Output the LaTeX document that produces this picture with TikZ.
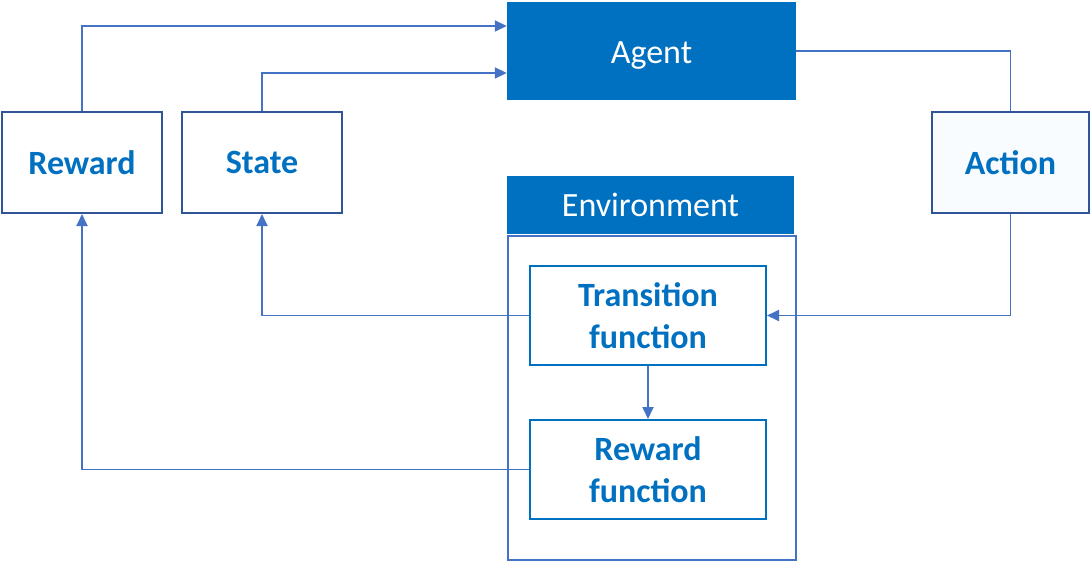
\documentclass[tikz,border=0pt]{standalone}
\usepackage{fontspec}
\setmainfont{Carlito}
\usetikzlibrary{arrows.meta}
\definecolor{hdr}{HTML}{0070C0}
\definecolor{edge}{HTML}{4472C4}
\definecolor{boxline}{HTML}{2F5597}
\definecolor{actfill}{HTML}{F8FCFF}
\tikzset{
  txt/.style={font=\fontsize{34}{42}\selectfont},
  hbox/.style={txt, fill=hdr, text=white, inner sep=0pt},
  obox/.style={draw=boxline, line width=2pt, text=hdr, font=\fontsize{34}{42}\selectfont\bfseries, inner sep=0pt, minimum width=160pt, minimum height=101pt},
  fbox/.style={draw=hdr, line width=2pt, text=hdr, font=\fontsize{34}{42}\selectfont\bfseries, align=center, inner sep=0pt, minimum width=236pt, minimum height=99pt},
  conn/.style={draw=edge, line width=1.8pt},
  arr/.style={conn, -{Triangle[length=12pt,width=11pt]}},
}
\begin{document}
\begin{tikzpicture}[x=1pt,y=-1pt]
\useasboundingbox (0,0) rectangle (1090,562);
% environment body
\node[draw=edge, line width=2pt, minimum width=288pt, minimum height=324pt, inner sep=0pt] (envbody) at (652,398) {};
\node[hbox, minimum width=287pt, minimum height=58pt] (env) at (650.5,205) {Environment};
\node[hbox, minimum width=289pt, minimum height=98pt, text height=32pt, text depth=7pt] (agent) at (651.5,51) {Agent};
\node[obox] (reward) at (82,162.5) {Reward};
\node[obox] (state) at (262,162.5) {State};
\node[obox, fill=actfill, minimum width=157pt] (action) at (1010.5,162.5) {Action};
\node[fbox, fill=white] (trans) at (648,315.5) {Transition\\function};
\node[fbox, fill=white] (rfun) at (648,469.5) {Reward\\function};
% connectors
\draw[arr] (reward.north) |- ([yshift=25pt]agent.west);
\draw[arr] (state.north) |- ([yshift=-22pt]agent.west);
\draw[conn] (agent.east) -| (action.north);
\draw[arr] (action.south) |- (trans.east);
\draw[arr] (trans.west) -| (state.south);
\draw[arr] (trans.south) -- (rfun.north);
\draw[arr] (rfun.west) -| (reward.south);
\end{tikzpicture}
\end{document}
